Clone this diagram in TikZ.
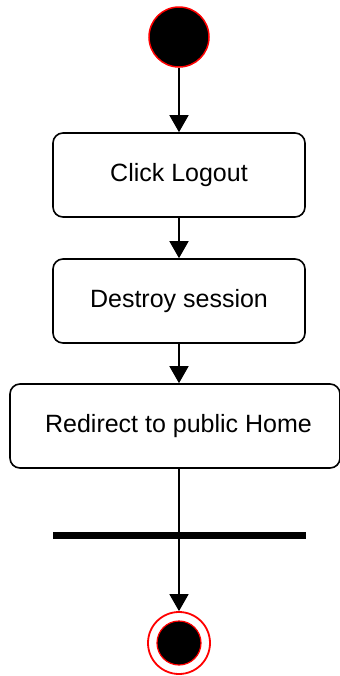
\documentclass[tikz,border=0pt]{standalone}
\usepackage{fontspec}
\setmainfont{Liberation Sans}
\usetikzlibrary{arrows.meta}
\tikzset{
  action/.style={draw, rounded corners=5pt, line width=0.8pt, minimum width=126pt, minimum height=42pt, font=\fontsize{12.5}{15}\selectfont},
  flow/.style={-{Triangle[width=9.5pt,length=8.5pt]}, line width=0.75pt}
}
\begin{document}
\begin{tikzpicture}[x=0.5pt,y=-0.5pt]
            \useasboundingbox (0,0) rectangle (339,676);
            \node(start) at (179,37) [draw=red, fill=black, circle, line width=0.75pt, minimum size=30pt, inner sep=0] {};
            
            \node(click_logout) at (179,175) [action] {Click Logout};
            \node(destroy_session) at (179,301) [action] {Destroy session};
            \node(redirect_home) at (175,426) [action, minimum width=165pt] {\hspace*{3.5pt}Redirect to public Home};
            
            \node(bar) at (179,535) [fill=black, minimum width=126.5pt, minimum height=3.5pt, inner sep=0] {};
            
            \node(end_ring) at (179,643) [draw=red, fill=white, circle, line width=0.9pt, minimum size=31pt, inner sep=0] {};
            \node(end) at (179,643) [draw=red, fill=black, circle, line width=0.6pt, minimum size=22pt, inner sep=0] {};
            
            \draw[flow] (start) -- (click_logout);
            \draw[flow] (click_logout) -- (destroy_session);
            \draw[flow] (destroy_session) -- (destroy_session |- redirect_home.north);
            \draw[line width=0.75pt] (redirect_home.south -| bar) -- (bar.center);
            \draw[flow] (bar.center) -- (end_ring);
        \end{tikzpicture}
\end{document}
